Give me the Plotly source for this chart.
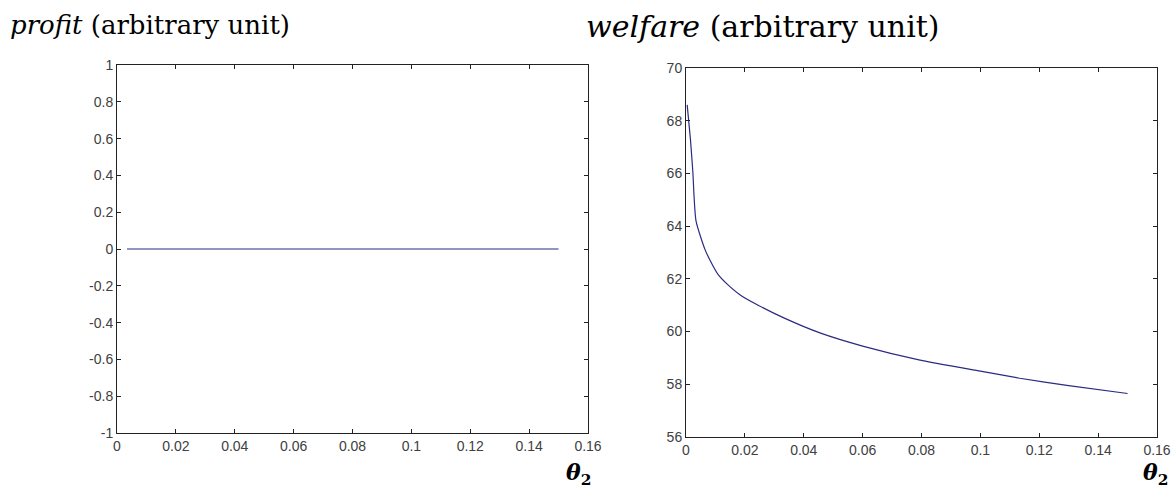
import plotly.graph_objects as go

# ---- data ----
profit_theta = [0.0034, 0.15]
profit_values = [0.0, 0.0]

welfare_theta = [0.0004, 0.0015, 0.0023, 0.0034, 0.0065, 0.0082, 0.011, 0.014, 0.0183,
                 0.0245, 0.0336, 0.0455, 0.06, 0.0795, 0.1, 0.1134, 0.13, 0.15]
welfare_values = [68.6, 67.3, 66.1, 64.2, 63.1, 62.7, 62.15, 61.8, 61.4,
                  61.0, 60.5, 59.95, 59.45, 58.92, 58.5, 58.23, 57.95, 57.65]

x_ticks = [0, 0.02, 0.04, 0.06, 0.08, 0.1, 0.12, 0.14, 0.16]
x_tick_labels = ["0", "0.02", "0.04", "0.06", "0.08", "0.1", "0.12", "0.14", "0.16"]
profit_y_ticks = [-1, -0.8, -0.6, -0.4, -0.2, 0, 0.2, 0.4, 0.6, 0.8, 1]
profit_y_labels = ["-1", "-0.8", "-0.6", "-0.4", "-0.2", "0", "0.2", "0.4", "0.6", "0.8", "1"]
welfare_y_ticks = [56, 58, 60, 62, 64, 66, 68, 70]
welfare_y_labels = ["56", "58", "60", "62", "64", "66", "68", "70"]

W, H = 1171, 490
LINE = "#2b2b82"
AXC = "#222222"
TICKFONT = dict(family="Liberation Sans, Arial, sans-serif", size=14, color="#404040")

fig = go.Figure()
fig.add_trace(go.Scatter(x=profit_theta, y=profit_values, mode="lines",
                         line=dict(color=LINE, width=1.2), xaxis="x", yaxis="y",
                         showlegend=False))
fig.add_trace(go.Scatter(x=welfare_theta, y=welfare_values, mode="lines",
                         line=dict(color=LINE, width=1.2, shape="spline", smoothing=0.6),
                         xaxis="x2", yaxis="y2", showlegend=False))

def px_x(p):
    return p / W

def px_y(p):
    return 1 - p / H

common_axis = dict(showline=True, linecolor=AXC, linewidth=1, mirror="ticks",
                   ticks="inside", ticklen=4, tickcolor=AXC, tickwidth=1,
                   showgrid=False, zeroline=False, tickfont=TICKFONT, automargin=False)

fig.update_layout(
    width=W, height=H,
    margin=dict(l=0, r=0, t=0, b=0),
    paper_bgcolor="white", plot_bgcolor="white",
    xaxis=dict(domain=[px_x(117), px_x(588)], range=[0, 0.16], anchor="y",
               tickvals=x_ticks, ticktext=x_tick_labels, **common_axis),
    yaxis=dict(domain=[px_y(433), px_y(65)], range=[-1, 1], anchor="x",
               tickvals=profit_y_ticks, ticktext=profit_y_labels, **common_axis),
    xaxis2=dict(domain=[px_x(686), px_x(1157)], range=[0, 0.16], anchor="y2",
                tickvals=x_ticks, ticktext=x_tick_labels, **common_axis),
    yaxis2=dict(domain=[px_y(437), px_y(68)], range=[56, 70], anchor="x2",
                tickvals=welfare_y_ticks, ticktext=welfare_y_labels, **common_axis),
)

fig.add_annotation(text="<i>profit</i> (arbitrary unit)", xref="paper", yref="paper",
                   x=px_x(8), y=px_y(25), xanchor="left", yanchor="middle",
                   showarrow=False,
                   font=dict(family="DejaVu Serif, Liberation Serif, serif", size=26, color="#000000"))
fig.add_annotation(text="<i>welfare</i> (arbitrary unit)", xref="paper", yref="paper",
                   x=px_x(584), y=px_y(27), xanchor="left", yanchor="middle",
                   showarrow=False,
                   font=dict(family="DejaVu Serif, Liberation Serif, serif", size=30, color="#000000"))

theta_font = dict(family="DejaVu Serif, Liberation Serif, serif", size=22, color="#000000")
fig.add_annotation(text="<b><i>θ</i></b><sub><b>2</b></sub>", xref="paper", yref="paper",
                   x=px_x(564), y=px_y(474), xanchor="left", yanchor="middle",
                   showarrow=False, font=theta_font)
fig.add_annotation(text="<b><i>θ</i></b><sub><b>2</b></sub>", xref="paper", yref="paper",
                   x=px_x(1141), y=px_y(474), xanchor="left", yanchor="middle",
                   showarrow=False, font=theta_font)

fig.write_html("out.html", config={"displayModeBar": False},
               post_script="document.body.style.margin='0';")
